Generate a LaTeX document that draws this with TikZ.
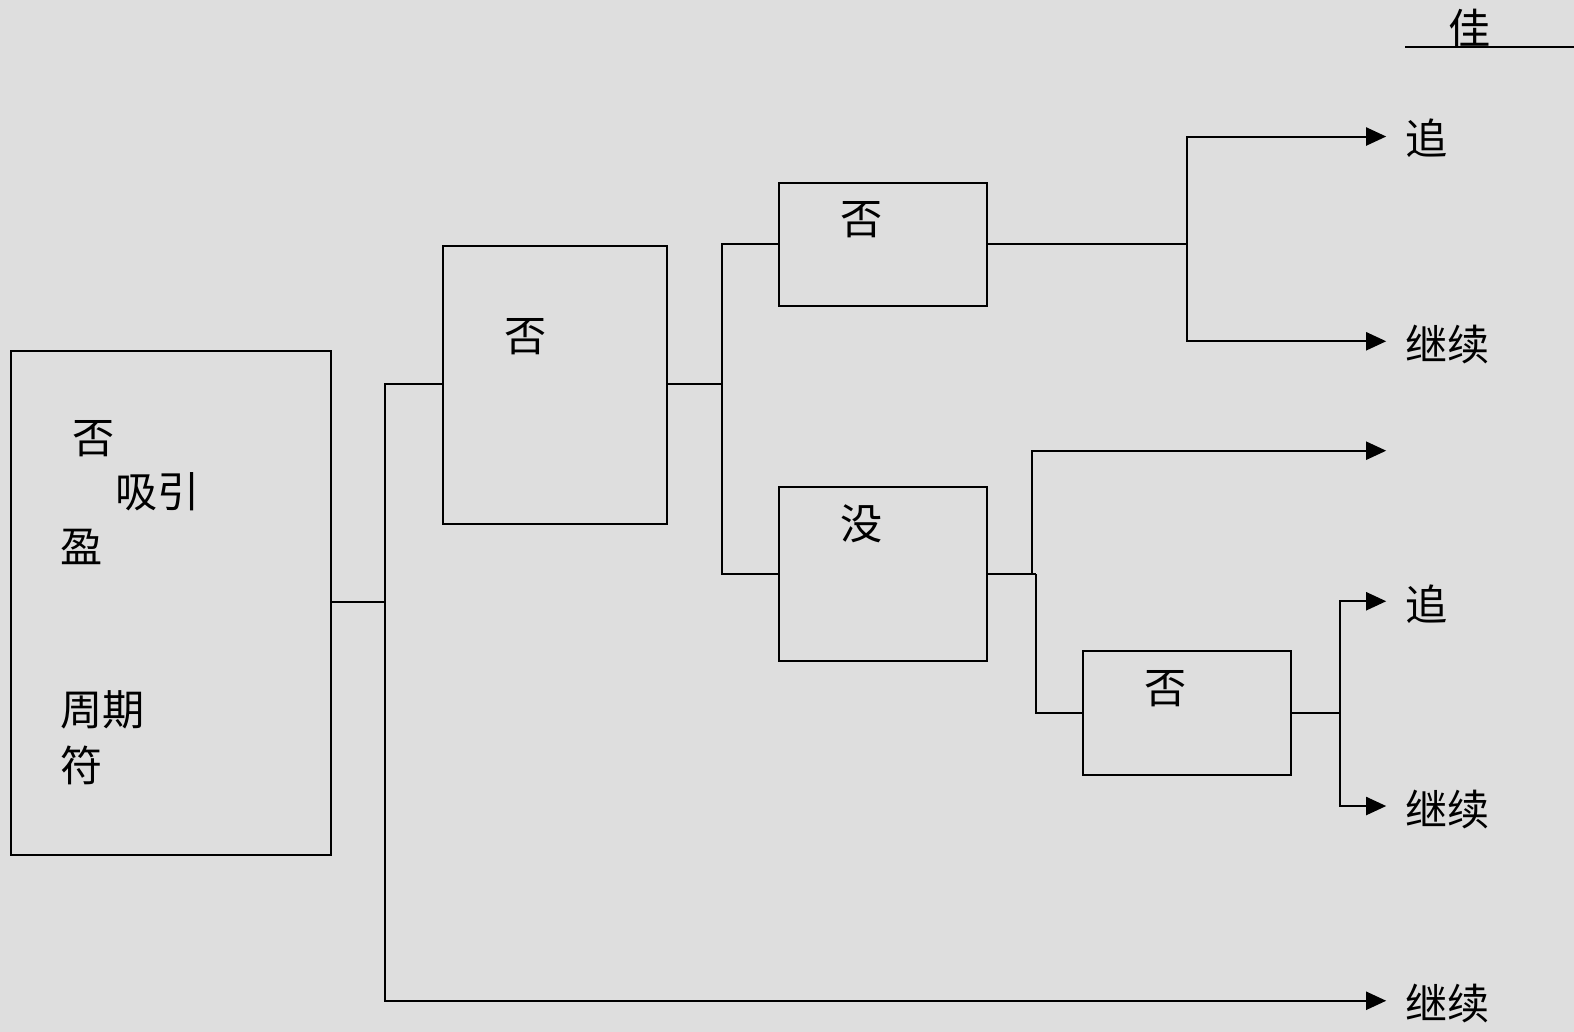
\documentclass[tikz,border=0pt]{standalone}
\usepackage{fontspec}
\newfontfamily\cjk{Noto Sans CJK SC}
\usetikzlibrary{arrows.meta,calc}
\definecolor{bgc}{HTML}{DEDEDE}
\tikzset{
  box/.style={draw=black,line width=2pt},
  wire/.style={draw=black,line width=2pt},
  arr/.style={wire,-{Triangle[length=20pt,width=18pt]}},
  lab/.style={inner sep=0pt,font=\cjk\fontsize{42}{44}\selectfont},
}
\begin{document}
\begin{tikzpicture}[x=1pt,y=-1pt]
\fill[bgc] (0,0) rectangle (1568.1,1028.1);
\useasboundingbox (0,0) rectangle (1568.1,1028.1);
% boxes
\node[box,inner sep=0pt,minimum width=319pt,minimum height=502pt,anchor=north west] (A) at (10,349) {};
\node[box,inner sep=0pt,minimum width=223pt,minimum height=277pt,anchor=north west] (B) at (440,244) {};
\node[box,inner sep=0pt,minimum width=207pt,minimum height=123pt,anchor=north west] (C) at (775,181) {};
\node[box,inner sep=0pt,minimum width=207pt,minimum height=174pt,anchor=north west] (D) at (775,484) {};
\node[box,inner sep=0pt,minimum width=207pt,minimum height=123pt,anchor=north west] (E) at (1078,648) {};
% labels in boxes
\node[lab] (a1) at (93,437) {否};
\node[lab] (a2) at (157,490) {吸引};
\node[lab] (a3) at (81,545) {盈};
\node[lab] (a4) at (102,707) {周期};
\node[lab] (a5) at (81,763) {符};
\node[lab] (bt) at (524,335) {否};
\node[lab] (ct) at (858,219) {否};
\node[lab] (dt) at (858,522) {没};
\node[lab] (et) at (1161,686) {否};
% outcome labels
\node[lab] (o1) at (1421,138) {追};
\node[lab] (o2) at (1442,343) {继续};
\node[lab] (o3) at (1421,602) {追};
\node[lab] (o4) at (1442,806) {继续};
\node[lab] (o5) at (1442,1000) {继续};
\node[lab] (top) at (1464,28) {佳};
\coordinate (ul1) at (1400,47);
\coordinate (ul2) at (1568.1,47);
\draw[wire] (ul1) -- (ul2);
% arrow end points
\coordinate (t1) at (1381,136);
\coordinate (t2) at (1381,340);
\coordinate (t3) at (1381,449);
\coordinate (t4) at (1381,599);
\coordinate (t5) at (1381,803);
\coordinate (t6) at (1381,997);
% junctions
\coordinate (j1) at (384,600);
\coordinate (j2) at (719,383);
\coordinate (j3) at ($(C.east)+(199,0)$);
\coordinate (j4) at ($(D.east)+(44,0)$);
\coordinate (j5) at ($(D.east)+(48,0)$);
\coordinate (j6) at ($(E.east)+(48,0)$);
% connectors
\draw[wire] (A.east |- j1) -- (j1);
\draw[wire] (j1) |- (B.west |- j2);
\draw[arr] (j1) |- (t6);
\draw[wire] (B.east |- j2) -- (j2);
\draw[wire] (j2) |- (C.west);
\draw[wire] (j2) |- (D.west);
\draw[wire] (C.east) -- (j3);
\draw[arr] (j3) |- (t1);
\draw[arr] (j3) |- (t2);
\draw[wire] (D.east) -- (j5);
\draw[arr] (j4) |- (t3);
\draw[wire] (j5) |- (E.west);
\draw[wire] (E.east) -- (j6);
\draw[arr] (j6) |- (t4);
\draw[arr] (j6) |- (t5);
\end{tikzpicture}
\end{document}
